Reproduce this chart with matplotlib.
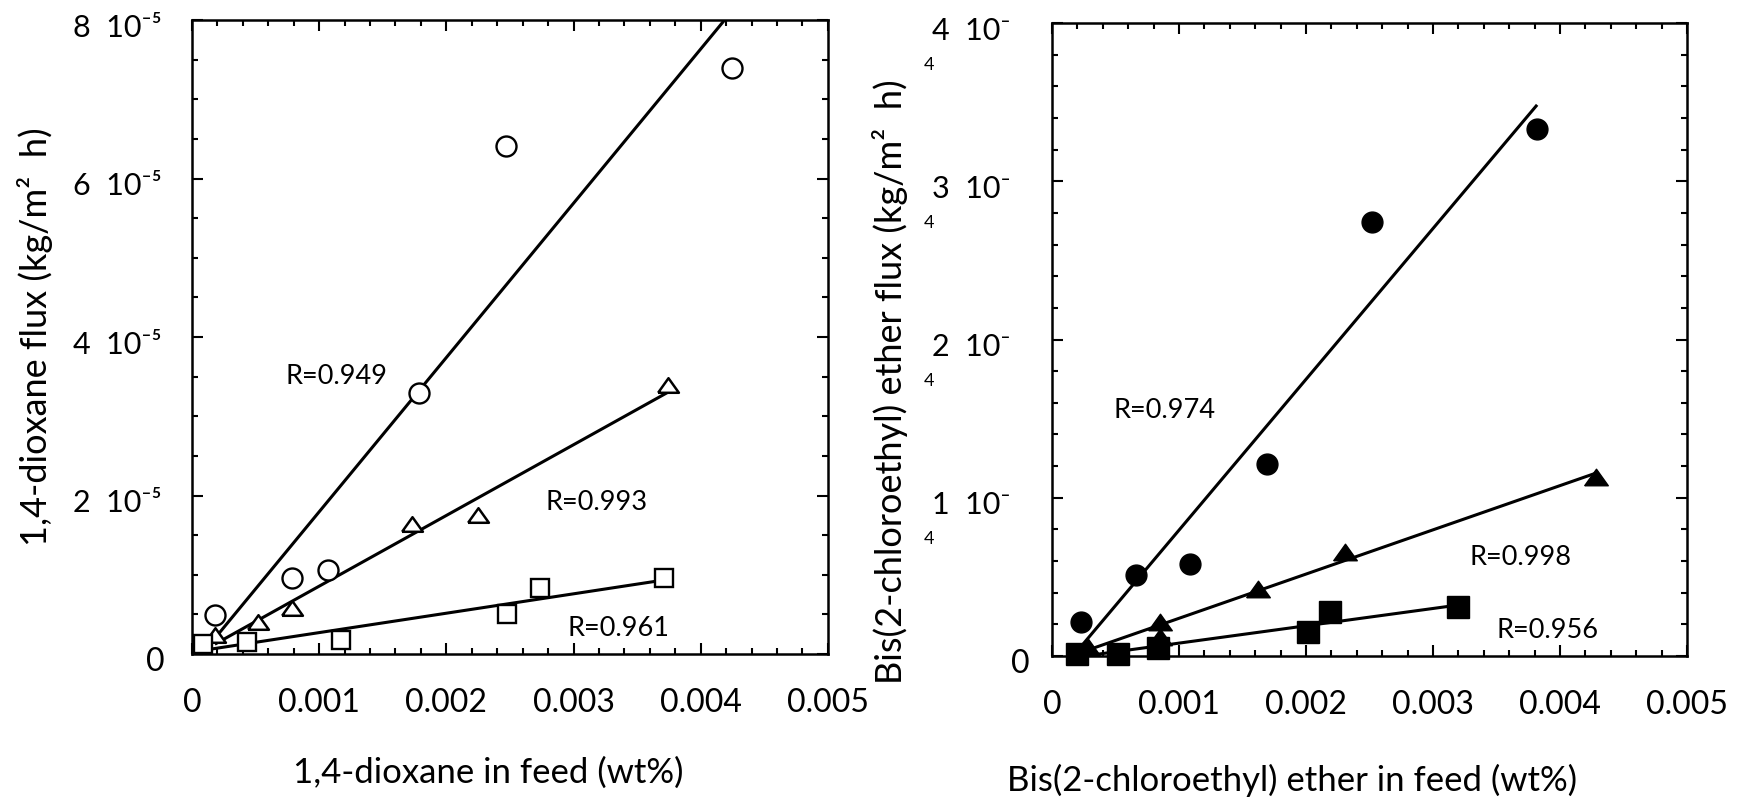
import numpy as np
import matplotlib
matplotlib.use("Agg")
import matplotlib.pyplot as plt
from matplotlib.ticker import MultipleLocator, FixedLocator
from matplotlib.transforms import ScaledTranslation

plt.rcParams['font.family'] = ['Lato', 'DejaVu Sans']

# ---------------- 1,4-dioxane permeation (left panel) ----------------
dx_circle = [0.000181, 0.000786, 0.00107, 0.001785, 0.00247, 0.004245]
dy_circle = [4.9e-6, 9.6e-6, 1.06e-5, 3.29e-5, 6.41e-5, 7.39e-5]
dx_tri = [0.00018, 0.00052, 0.00079, 0.00173, 0.00225, 0.00374]
dy_tri = [2.4e-6, 4.0e-6, 5.8e-6, 1.64e-5, 1.75e-5, 3.39e-5]
dx_sq = [0.000086, 0.00043, 0.00117, 0.00248, 0.00274, 0.00371]
dy_sq = [1.3e-6, 1.5e-6, 1.8e-6, 5.0e-6, 8.3e-6, 9.6e-6]
dioxane_r = ["R=0.949", "R=0.993", "R=0.961"]
dioxane_xticks = [0, 0.001, 0.002, 0.003, 0.004, 0.005]
dioxane_xticklabels = ["0", "0.001", "0.002", "0.003", "0.004", "0.005"]
dioxane_yticks = [0, 2e-5, 4e-5, 6e-5, 8e-5]
dioxane_yticklabels = ["0", "2  10\u207b\u2075", "4  10\u207b\u2075", "6  10\u207b\u2075", "8  10\u207b\u2075"]

# ------------- bis(2-chloroethyl) ether permeation (right panel) -------------
bx_circle = [0.000228, 0.00066, 0.00109, 0.00169, 0.00252, 0.00382]
by_circle = [2.14e-5, 5.1e-5, 5.8e-5, 1.216e-4, 2.74e-4, 3.33e-4]
bx_tri = [0.000287, 0.00085, 0.00085, 0.00162, 0.00231, 0.00428]
by_tri = [5.7e-6, 2.14e-5, 1.2e-5, 4.22e-5, 6.55e-5, 1.134e-4]
bx_sq = [0.0002, 0.00052, 0.000835, 0.00202, 0.00219, 0.0032]
by_sq = [1.3e-6, 1.3e-6, 5.0e-6, 1.51e-5, 2.77e-5, 3.09e-5]
ether_r = ["R=0.974", "R=0.998", "R=0.956"]
ether_xticks = [0, 0.001, 0.002, 0.003, 0.004, 0.005]
ether_xticklabels = ["0", "0.001", "0.002", "0.003", "0.004", "0.005"]
ether_yticks = [0, 1e-4, 2e-4, 3e-4, 4e-4]
ether_yticklabels = ["0", "1  10\u207b", "2  10\u207b", "3  10\u207b", "4  10\u207b"]
ether_exponent = "4"

# flattened triangle marker
TRI = [(-1, -0.7), (1, -0.7), (0, 0.7), (-1, -0.7)]

DPI = 100
fig = plt.figure(figsize=(17.5, 8.03), dpi=DPI)
axL = fig.add_axes([0.1097, 0.1843, 0.3634, 0.7895])
axR = fig.add_axes([0.6011, 0.1818, 0.3629, 0.7883])


def fit_line(ax, xs, ys):
    k, b = np.polyfit(xs, ys, 1)
    xx = np.array([min(xs), max(xs)])
    ax.plot(xx, k * xx + b, color='black', lw=2.2, zorder=2, solid_capstyle='butt')


def style_axes(ax, xmax, ymax, xminor, yminor):
    ax.set_xlim(0, xmax)
    ax.set_ylim(0, ymax)
    for s in ax.spines.values():
        s.set_linewidth(1.8)
    ax.xaxis.set_minor_locator(MultipleLocator(xminor))
    ax.yaxis.set_minor_locator(MultipleLocator(yminor))
    ax.tick_params(which='both', direction='in', top=True, right=True, width=1.5)
    ax.tick_params(which='major', length=8)
    ax.tick_params(which='minor', length=4.5)
    ax.tick_params(axis='x', which='major', labelsize=23, pad=24)


def align_ylabels(ax, targets, drop_px=4):
    """Place each y tick label's right edge at the given pixel column, slightly below its tick."""
    fig.canvas.draw()
    rend = fig.canvas.get_renderer()
    for tick, target in zip(ax.yaxis.get_major_ticks(), targets):
        bb = tick.label1.get_window_extent(rend)
        tick.set_pad(tick.get_pad() + (bb.x1 - target) * 72 / DPI)
        tick.label1.set_transform(tick.label1.get_transform() +
                                  ScaledTranslation(0, -drop_px / DPI, fig.dpi_scale_trans))


# ---------------- left panel ----------------
fit_line(axL, dx_circle, dy_circle)
fit_line(axL, dx_tri, dy_tri)
fit_line(axL, dx_sq, dy_sq)
axL.plot(dx_circle, dy_circle, ls='none', marker='o', ms=14.4, mfc='white', mec='black', mew=1.7, zorder=3, clip_on=False)
axL.plot(dx_tri, dy_tri, ls='none', marker=TRI, ms=15, mfc='white', mec='black', mew=1.8, zorder=3, clip_on=False)
axL.plot(dx_sq, dy_sq, ls='none', marker='s', ms=13, mfc='white', mec='black', mew=1.7, zorder=3, clip_on=False)

style_axes(axL, 0.005, 8e-5, 0.0002, 0.5e-5)
axL.xaxis.set_major_locator(FixedLocator(dioxane_xticks))
axL.set_xticklabels(dioxane_xticklabels)
axL.yaxis.set_major_locator(FixedLocator(dioxane_yticks))
axL.set_yticklabels(dioxane_yticklabels)
axL.tick_params(axis='y', which='major', labelsize=22, pad=22)
axL.get_yticklabels()[0].set_fontsize(23)

axL.text(0.00114, 3.51e-5, dioxane_r[0], fontsize=19.5, ha='center', va='center')
axL.text(0.00318, 1.93e-5, dioxane_r[1], fontsize=19.5, ha='center', va='center')
axL.text(0.00335, 3.3e-6, dioxane_r[2], fontsize=19.5, ha='center', va='center')

# ---------------- right panel ----------------
fit_line(axR, bx_circle, by_circle)
fit_line(axR, bx_tri, by_tri)
fit_line(axR, bx_sq, by_sq)
axR.plot(bx_circle, by_circle, ls='none', marker='o', ms=15, mfc='black', mec='black', zorder=3, clip_on=False)
axR.plot(bx_tri, by_tri, ls='none', marker=TRI, ms=17, mfc='black', mec='black', zorder=3, clip_on=False)
axR.plot(bx_sq, by_sq, ls='none', marker='s', ms=16, mfc='black', mec='black', zorder=3, clip_on=False)

style_axes(axR, 0.005, 4e-4, 0.0002, 0.2e-4)
axR.xaxis.set_major_locator(FixedLocator(ether_xticks))
axR.set_xticklabels(ether_xticklabels)
axR.yaxis.set_major_locator(FixedLocator(ether_yticks))
axR.set_yticklabels(ether_yticklabels)
axR.tick_params(axis='y', which='major', labelsize=22, pad=16)
axR.get_yticklabels()[0].set_fontsize(23)

axR.text(0.00089, 1.556e-4, ether_r[0], fontsize=19.5, ha='center', va='center')
axR.text(0.00369, 6.3e-5, ether_r[1], fontsize=19.5, ha='center', va='center')
axR.text(0.0039, 1.7e-5, ether_r[2], fontsize=19.5, ha='center', va='center')

# right edges of the y tick labels (pixels from the left of the figure)
align_ylabels(axL, [165, 162, 162, 162, 162])
align_ylabels(axR, [1030, 1011, 1011, 1011, 1011])

# exponent digit set on the line below each "n 10-" label
fig.canvas.draw()
rend = fig.canvas.get_renderer()
W, H = fig.bbox.width, fig.bbox.height
for tick in axR.yaxis.get_major_ticks()[1:]:
    bb = tick.label1.get_window_extent(rend)
    fig.text((bb.x0 - 9) / W, ((bb.y0 + bb.y1) / 2 - 34) / H,
             ether_exponent, fontsize=13, ha='left', va='center')

# ---------------- axis titles ----------------
fig.text(35 / 1750, 1 - 337 / 803, "1,4-dioxane flux (kg/m\u00b2  h)", rotation=90,
         fontsize=26, ha='center', va='center')
fig.text(890 / 1750, 1 - 382 / 803, "Bis(2-chloroethyl) ether flux (kg/m\u00b2  h)", rotation=90,
         fontsize=26, ha='center', va='center')
fig.text(293 / 1750, 1 - 773 / 803, "1,4-dioxane in feed (wt%)", fontsize=25, ha='left', va='center')
fig.text(1007 / 1750, 1 - 780 / 803, "Bis(2-chloroethyl) ether in feed (wt%)", fontsize=25, ha='left', va='center')

fig.savefig("out.png", dpi=DPI, facecolor='white')
